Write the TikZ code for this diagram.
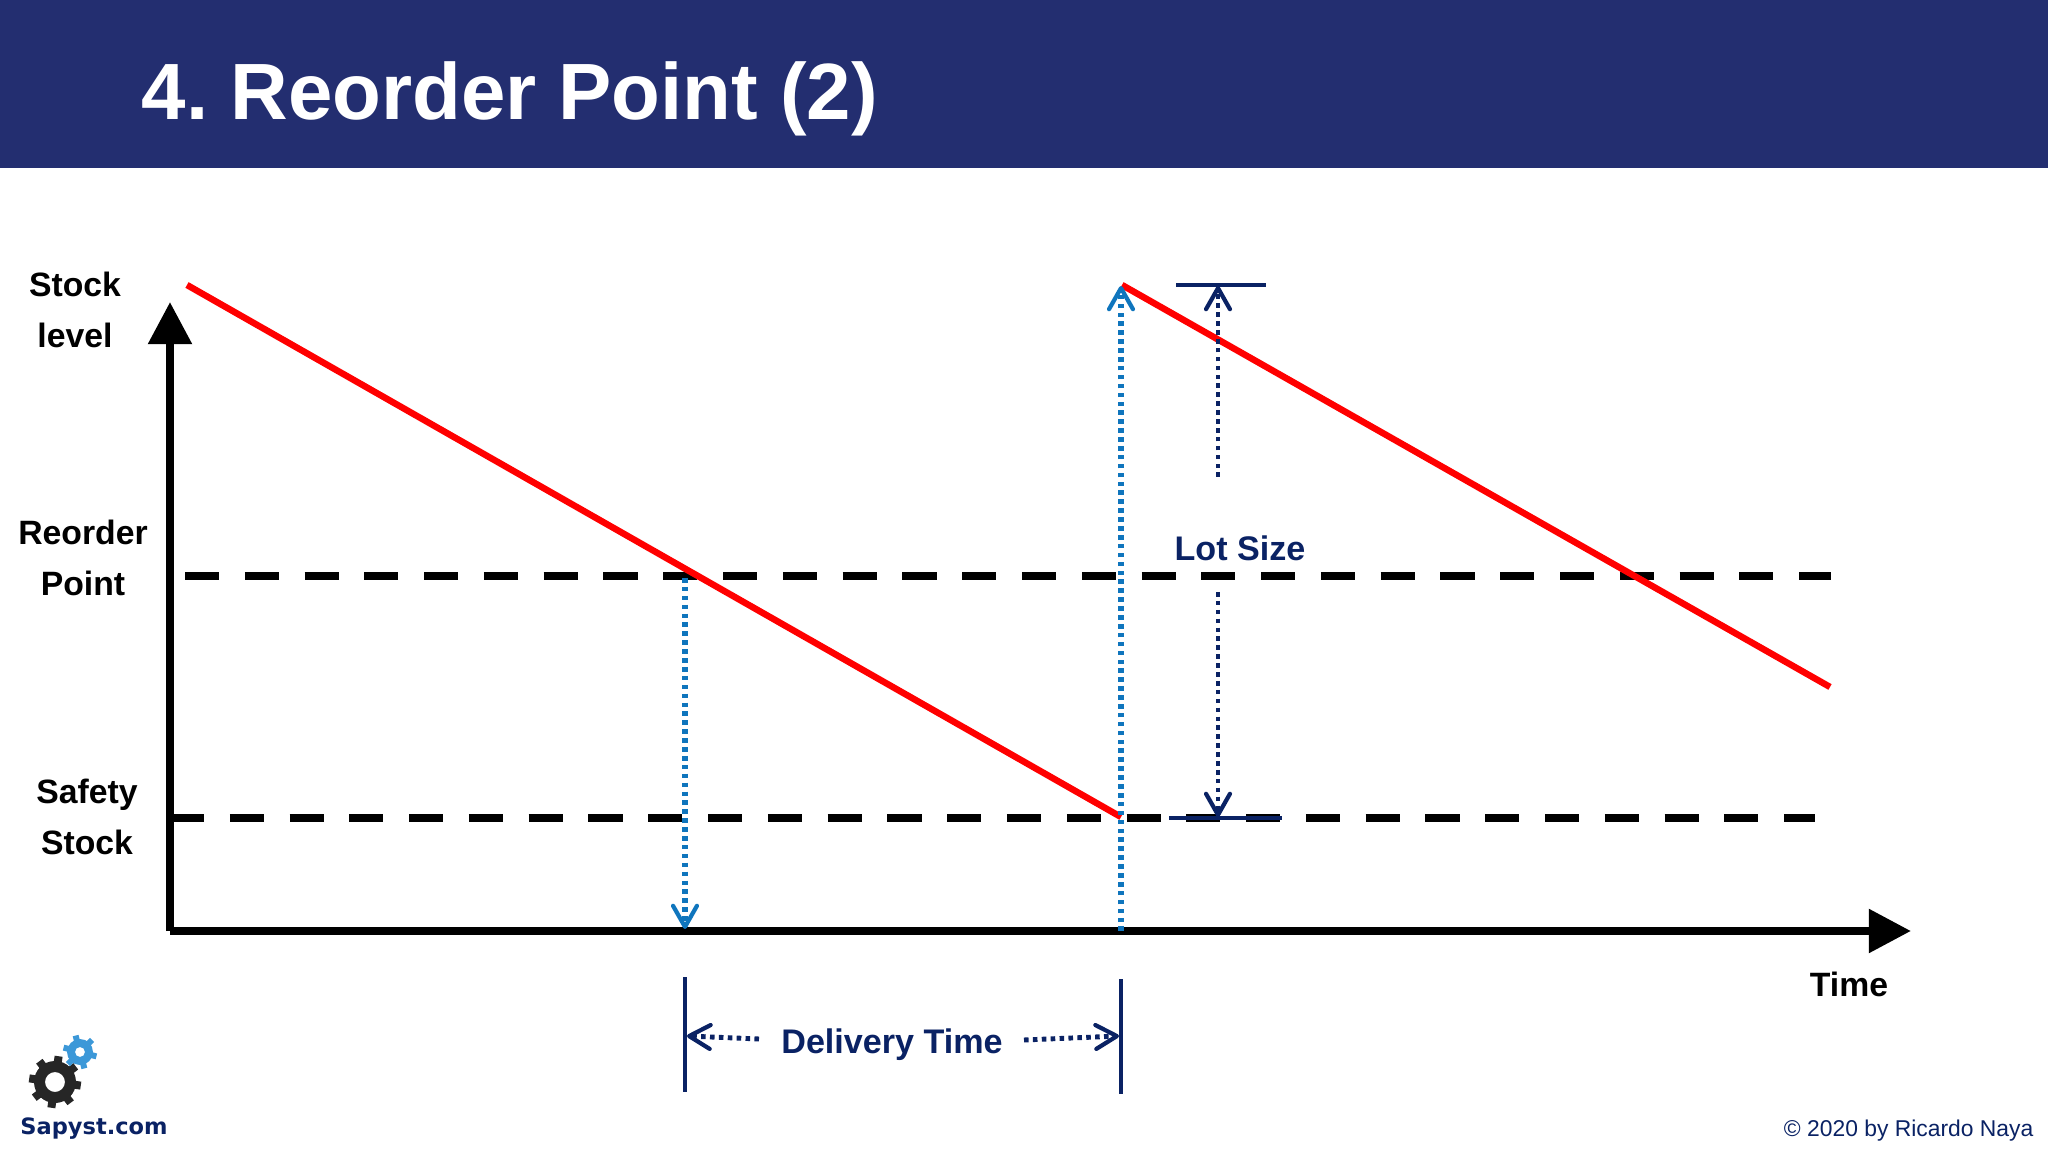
\documentclass[tikz,border=0pt]{standalone}
\usepackage{fontspec}
\setmainfont{Liberation Sans}
\newfontfamily\logofont{DejaVu Sans}
\usetikzlibrary{arrows.meta}
\definecolor{bannerblue}{RGB}{35,46,112}
\definecolor{navy}{RGB}{10,34,100}
\definecolor{dotblue}{RGB}{15,117,189}
\definecolor{gearblue}{RGB}{60,152,216}
\definecolor{gearblack}{RGB}{38,38,38}
\tikzset{
    mytitle/.style = {anchor=west,inner sep=0pt,text=white,font=\fontsize{22.7}{27}\selectfont\bfseries},
    mylabel/.style = {align=center,inner sep=0pt,text=black,font=\fontsize{9.6}{14.5}\selectfont\bfseries},
    mynavy/.style = {inner sep=0pt,text=navy,font=\fontsize{9.7}{14.5}\selectfont\bfseries},
    edgeaxis/.style = {line width=2.35pt,black,-{Triangle[length=12pt,width=12pt]}},
    edger/.style = {line width=1.85pt,red},
    edgedash/.style = {line width=2.5pt,black,dash pattern=on 9.7pt off 7.3pt},
    edgeb/.style = {line width=1.5pt,dotblue,dash pattern=on 1.3pt off 1.23pt,-{Straight Barb[length=6pt,width=6.8pt,line width=1.2pt,round]}},
    edgen/.style = {line width=1.4pt,navy,dash pattern=on 1.3pt off 1.23pt,-{Straight Barb[length=6pt,width=6.8pt,line width=1.2pt,round]}},
    edgebar/.style = {line width=1.3pt,navy},
}
\begin{document}
\frenchspacing
\begin{tikzpicture}[x=0.01cm,y=-0.01cm]
\path[use as bounding box] (0,0) rectangle (2048,1152);
\fill[bannerblue] (0,0) rectangle (2048,168);
\node[mytitle] at (141, 99) (title) {4. Reorder Point (2)};
%
\coordinate (origin) at (170, 931);
\coordinate (ytip) at (170, 302);
\coordinate (xtip) at (1911, 931);
\coordinate (ra) at (187, 285);
\coordinate (rb) at (1121, 817);
\coordinate (rc) at (1122, 285);
\coordinate (rd) at (1830, 687);
\coordinate (ropa) at (185, 576);
\coordinate (ropb) at (1831, 576);
\coordinate (ssa) at (170, 818);
\coordinate (ssb) at (1815, 818);
%
\draw[edgedash] (ropa) -- (ropb);
\draw[edgedash] (ssa) -- (ssb);
\draw[edger] (ra) -- (rb);
\draw[edger] (rc) -- (rd);
\draw[edgeaxis] (origin) -- (ytip);
\draw[edgeaxis] (origin) -- (xtip);
%
\coordinate (dropa) at (685, 578);
\coordinate (dropb) at (685, 929);
\coordinate (risea) at (1121, 931);
\coordinate (riseb) at (1121, 286);
\draw[edgeb] (dropa) -- (dropb);
\draw[edgeb] (risea) -- (riseb);
%
\coordinate (lota) at (1218, 477);
\coordinate (lotb) at (1218, 286);
\coordinate (lotc) at (1218, 592);
\coordinate (lotd) at (1218, 817);
\draw[edgen] (lota) -- (lotb);
\draw[edgen] (lotc) -- (lotd);
\coordinate (topa) at (1176, 285);
\coordinate (topb) at (1266, 285);
\coordinate (bota) at (1169, 818);
\coordinate (botb) at (1282, 818);
\draw[edgebar] (topa) -- (topb);
\draw[edgebar] (bota) -- (botb);
%
\coordinate (la) at (685, 977);
\coordinate (lb) at (685, 1092);
\coordinate (rua) at (1121, 979);
\coordinate (rub) at (1121, 1094);
\draw[edgebar] (la) -- (lb);
\draw[edgebar] (rua) -- (rub);
\coordinate (dla) at (759, 1039);
\coordinate (dlb) at (687, 1036);
\coordinate (dra) at (1024, 1040);
\coordinate (drb) at (1119, 1036);
\draw[edgen] (dla) -- (dlb);
\draw[edgen] (dra) -- (drb);
%
\node[mylabel] at (75, 310) (stock) {Stock\\level};
\node[mylabel] at (83, 558) (reorder) {Reorder\\Point};
\node[mylabel] at (87, 817) (safety) {Safety\\Stock};
\node[mylabel] at (1849, 984) (time) {Time};
\node[mynavy] at (1240, 548) (lot) {Lot Size};
\node[mynavy] at (892, 1045) (delivery) {Delivery Time};
%
\foreach \a in {0,45,...,315}
    \fill[gearblack] (55,1082) ++(\a+8:26) -- ++(\a+98:4) -- ++(\a+188:8) -- ++(\a+278:8) -- ++(\a+8:8) -- cycle;
\fill[gearblack,even odd rule] (55,1082) circle[radius=21] (55,1082) circle[radius=10];
\foreach \a in {0,60,...,300}
    \fill[gearblue] (80,1052) ++(\a+15:17) -- ++(\a+105:3) -- ++(\a+195:6) -- ++(\a+285:6) -- ++(\a+15:6) -- cycle;
\fill[gearblue,even odd rule] (80,1052) circle[radius=13] (80,1052) circle[radius=5];
\node[inner sep=0pt,text=navy,font=\fontsize{6.4}{8}\selectfont\logofont\bfseries] at (94, 1129) (logo) {Sapyst.com};
\node[inner sep=0pt,anchor=east,text=navy,font=\fontsize{6.5}{8}\selectfont] at (2034, 1131) (copy) {© 2020 by Ricardo Naya};
\end{tikzpicture}
\end{document}
